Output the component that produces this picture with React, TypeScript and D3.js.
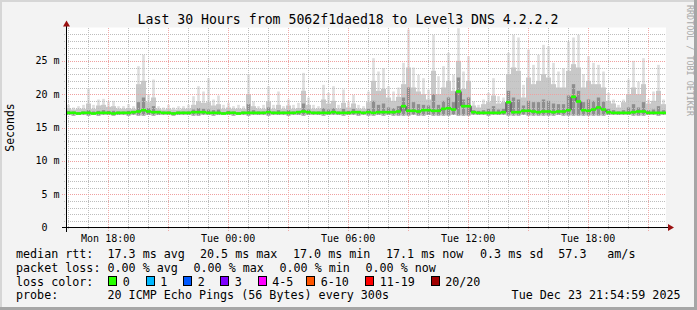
import React from 'react';
import * as d3 from 'd3';

const W = 697;
const H = 310;
const MONO = '"DejaVu Sans Mono", "Liberation Mono", monospace';

const title = 'Last 30 Hours from 5062f1daed18 to Level3 DNS 4.2.2.2';
const endTime = new Date(2025, 11, 23, 21, 54, 59);
const spanHours = 30;
const colMinutes = 15;

// per 15-minute column, values in ms
const medianMs = [
  17.2, 17.2, 17.1, 17.2, 17.2, 17.1, 17.2, 17.2, 17.2, 17.1, 17.2, 17.2, 17.2, 17.3, 17.4, 17.6, 17.4, 17.3, 17.3, 17.2,
  17.2, 17.1, 17.2, 17.2, 17.2, 17.3, 17.3, 17.3, 17.2, 17.2, 17.2, 17.1, 17.2, 17.2, 17.1, 17.2, 17.2, 17.2, 17.2, 17.2,
  17.3, 17.2, 17.2, 17.2, 17.2, 17.2, 17.3, 17.4, 17.3, 17.2, 17.2, 17.2, 17.2, 17.3, 17.2, 17.2, 17.2, 17.3, 17.3, 17.2,
  17.3, 17.2, 17.3, 17.3, 17.3, 17.3, 17.4, 18.2, 17.5, 17.5, 17.4, 17.6, 17.6, 17.5, 17.5, 17.8, 17.9, 17.7, 20.4, 18.2,
  18.2, 17.3, 17.2, 17.2, 17.2, 17.2, 17.2, 17.3, 18.8, 17.3, 17.3, 17.5, 17.5, 17.4, 17.3, 17.4, 17.4, 17.3, 17.4, 17.4,
  17.6, 19.6, 18.9, 17.6, 17.5, 17.7, 18.0, 17.7, 17.3, 17.2, 17.2, 17.2, 17.2, 17.3, 17.4, 17.4, 17.2, 17.2, 17.2, 17.2,
];
const lowMs = [
  16.9, 16.8, 16.9, 16.9, 16.8, 16.9, 16.8, 16.9, 16.9, 16.8, 16.9, 16.9, 16.8, 16.9, 16.8, 16.8, 16.9, 16.8, 16.9, 16.9,
  16.9, 16.8, 16.9, 16.9, 16.9, 16.8, 16.8, 16.9, 16.9, 16.8, 16.9, 16.9, 16.9, 16.8, 16.9, 16.9, 16.8, 16.9, 16.9, 16.9,
  16.8, 16.9, 16.9, 16.9, 16.8, 16.9, 16.9, 16.8, 16.9, 16.9, 16.9, 16.8, 16.9, 16.9, 16.9, 16.8, 16.9, 16.9, 16.8, 16.9,
  16.8, 16.8, 16.9, 16.8, 16.9, 16.8, 16.8, 16.8, 16.8, 16.9, 16.8, 16.8, 16.9, 16.8, 16.8, 16.8, 16.8, 16.9, 16.8, 16.8,
  16.8, 16.9, 16.9, 16.9, 16.8, 16.9, 16.9, 16.9, 16.8, 16.8, 16.8, 16.9, 16.8, 16.8, 16.8, 16.8, 16.8, 16.8, 16.9, 16.8,
  16.8, 16.8, 16.8, 16.8, 16.8, 16.8, 16.8, 16.8, 16.9, 16.9, 16.9, 16.9, 16.9, 16.8, 16.8, 16.8, 16.9, 16.9, 16.8, 16.9,
];
const p60Ms = [
  17.5, 17.4, 17.3, 17.4, 17.6, 17.4, 17.5, 17.6, 17.5, 17.5, 17.4, 17.4, 17.5, 17.5, 18.8, 19.5, 17.9, 18.2, 17.5, 17.4,
  17.4, 17.3, 17.4, 17.4, 17.4, 17.7, 17.9, 17.8, 17.7, 17.6, 17.7, 17.3, 17.5, 17.4, 17.3, 17.4, 18.5, 17.6, 17.4, 17.4,
  18.0, 17.4, 17.6, 17.4, 17.6, 17.4, 17.5, 18.6, 17.7, 17.4, 17.4, 17.9, 17.7, 17.9, 17.4, 17.8, 17.5, 17.8, 17.5, 17.4,
  17.8, 19.0, 18.4, 18.6, 18.0, 17.9, 18.2, 19.5, 21.0, 18.8, 18.5, 18.4, 18.3, 20.0, 18.4, 19.0, 19.5, 18.8, 22.5, 19.2,
  19.5, 17.6, 17.5, 17.6, 17.8, 18.2, 17.7, 17.8, 20.5, 19.5, 19.2, 18.3, 19.0, 18.8, 18.8, 19.2, 19.0, 18.6, 18.5, 18.5,
  19.8, 21.5, 20.5, 18.8, 19.2, 19.0, 19.5, 18.9, 17.8, 17.6, 17.4, 17.6, 18.0, 18.5, 18.0, 18.8, 17.6, 17.7, 18.2, 17.6,
];
const p90Ms = [
  17.9, 17.7, 17.8, 17.8, 18.6, 17.8, 18.3, 18.4, 18.1, 18.2, 17.8, 17.8, 17.9, 17.8, 21.5, 22.0, 18.8, 19.5, 17.8, 17.7,
  17.8, 17.7, 17.7, 17.8, 17.8, 18.4, 18.9, 18.7, 18.8, 18.3, 18.5, 17.8, 18.0, 17.8, 17.8, 17.8, 20.0, 18.2, 17.8, 17.8,
  18.9, 17.8, 18.4, 17.8, 18.3, 17.8, 17.9, 20.5, 18.4, 17.8, 17.8, 19.2, 18.6, 19.0, 17.8, 18.7, 18.0, 18.6, 17.8, 17.8,
  18.8, 22.0, 20.5, 20.8, 19.5, 19.0, 19.6, 21.5, 24.0, 21.0, 20.4, 20.0, 19.2, 23.5, 20.0, 21.0, 22.0, 20.5, 25.0, 20.8,
  22.0, 18.3, 18.0, 18.5, 18.8, 19.8, 18.6, 18.8, 23.0, 24.0, 23.5, 19.5, 22.5, 21.5, 22.0, 23.0, 22.5, 21.5, 21.0, 21.0,
  23.5, 24.5, 24.0, 21.0, 22.0, 21.5, 21.5, 21.0, 19.0, 18.6, 18.0, 18.8, 20.0, 21.0, 20.0, 21.5, 18.6, 19.0, 20.5, 18.5,
];
const maxMs = [
  18.4, 18.0, 18.2, 18.4, 20.9, 18.4, 19.2, 19.3, 18.9, 19.0, 18.2, 18.2, 18.5, 18.2, 24.2, 25.9, 20.0, 22.2, 18.2, 18.0,
  18.4, 18.0, 18.2, 18.2, 18.4, 19.7, 21.2, 20.4, 22.4, 19.2, 19.8, 18.4, 18.7, 18.2, 18.4, 18.2, 23.0, 18.9, 18.2, 18.4,
  21.2, 18.4, 20.4, 18.2, 19.2, 18.4, 18.7, 23.2, 19.5, 18.4, 18.2, 21.4, 20.2, 21.2, 18.4, 20.7, 18.9, 19.9, 18.4, 18.2,
  20.4, 25.4, 23.4, 23.9, 21.2, 20.4, 21.0, 24.7, 29.7, 24.0, 22.9, 22.4, 20.7, 28.9, 22.7, 24.2, 26.2, 22.9, 29.9, 23.4,
  25.7, 18.9, 18.4, 19.2, 20.2, 22.4, 19.7, 19.5, 26.2, 28.9, 28.5, 21.4, 26.7, 24.4, 25.9, 27.4, 27.2, 24.7, 23.4, 23.9,
  27.9, 28.5, 28.9, 23.0, 25.7, 24.7, 24.4, 23.4, 20.2, 19.2, 18.4, 19.2, 22.2, 25.0, 21.9, 25.4, 19.2, 20.4, 24.4, 19.2,
];

const yMajorTicks = [0, 5, 10, 15, 20, 25];
const lossColors = [
  { label: '0', color: '#26ff00' },
  { label: '1', color: '#00b8ff' },
  { label: '2', color: '#0059ff' },
  { label: '3', color: '#7e00ff' },
  { label: '4-5', color: '#ff00ff' },
  { label: '6-10', color: '#ff5500' },
  { label: '11-19', color: '#ff0000' },
  { label: '20/20', color: '#a00000' },
];
const legendRtt = [
  { text: 'median rtt:', x: 16 },
  { text: '17.3 ms avg', x: 107.5 },
  { text: '20.5 ms max', x: 200 },
  { text: '17.0 ms min', x: 293 },
  { text: '17.1 ms now', x: 386 },
  { text: '0.3 ms sd', x: 480 },
  { text: '57.3', x: 558.3 },
  { text: 'am/s', x: 607.3 },
];
const legendLoss = [
  { text: 'packet loss:', x: 16 },
  { text: '0.00 % avg', x: 107.5 },
  { text: '0.00 % max', x: 193.5 },
  { text: '0.00 % min', x: 279.5 },
  { text: '0.00 % now', x: 365.5 },
];
const lossBoxX = [108, 145.5, 183, 220, 257.5, 306, 365, 430.5];
const probeText = '20 ICMP Echo Pings (56 Bytes) every 300s';
const dateText = 'Tue Dec 23 21:54:59 2025';

export default function App() {
  const x0 = 66, x1 = 666, yTop = 27.5, yBot = 227.5;
  const startTime = new Date(endTime.getTime() - spanHours * 3600 * 1000);
  const xScale = d3.scaleTime().domain([startTime, endTime]).range([x0, x1]);
  const yScale = d3.scaleLinear().domain([0, 30]).range([yBot, yTop]);

  const colTime = (i: number) => new Date(startTime.getTime() + i * colMinutes * 60000);
  const cols = medianMs.map((m, i) => ({
    xa: xScale(colTime(i)),
    xb: xScale(colTime(i + 1)),
    med: m, lo: lowMs[i], p60: p60Ms[i], p90: p90Ms[i], max: maxMs[i],
  }));

  const hours = d3.timeHour.range(startTime, endTime);
  const minorY = d3.range(1, 30).filter((v) => v % 5 !== 0);
  const fmt = d3.timeFormat('%a %H:%M');

  const layers = [
    { key: 'max', color: '#dedede', inset: 1.2 },
    { key: 'p90', color: '#c8c8c8', inset: 0 },
    { key: 'p60', color: '#8e8e8e', inset: 0.8 },
  ];

  const blackLine = d3.line<[number, number]>().curve(d3.curveStepAfter)(
    [...cols.map((c) => [c.xa, yScale(c.med)] as [number, number]),
     [cols[cols.length - 1].xb, yScale(cols[cols.length - 1].med)]]
  );

  const charW = 6.02;
  const px = (v: number) => Math.round(v) + 0.5;

  return (
    <svg width={W} height={H} style={{ position: 'absolute', left: 0, top: 0, display: 'block' }}
      fontFamily={MONO}>
      <rect x={0} y={0} width={W} height={H} fill="#f3f3f3" />
      <rect x={0} y={0} width={W} height={2} fill="#d6d6d6" />
      <rect x={0} y={0} width={2} height={H} fill="#d6d6d6" />
      <rect x={W - 3} y={0} width={3} height={H} fill="#a6a6a6" />
      <rect x={0} y={H - 3} width={W} height={3} fill="#a6a6a6" />

      <rect x={x0} y={yTop} width={x1 - x0} height={yBot - yTop} fill="#ffffff" />

      {/* smoke */}
      {layers.map((l) => (
        <g key={l.key}>
          {cols.map((c, i) => {
            const top = yScale((c as any)[l.key]);
            const bot = yScale(c.lo);
            return <rect key={i} x={c.xa + l.inset} y={top} width={c.xb - c.xa - 2 * l.inset} height={Math.max(0, bot - top)} fill={l.color} />;
          })}
        </g>
      ))}

      {/* grid */}
      <g shapeRendering="crispEdges" strokeDasharray="1 1" strokeWidth={1} fill="none">
        {minorY.map((v) => (
          <line key={'my' + v} x1={x0 - 2} x2={x1} y1={px(yScale(v))} y2={px(yScale(v))} stroke="#bdbdbd" />
        ))}
        {hours.filter((h) => h.getHours() % 3 !== 0).map((h) => (
          <line key={'mx' + h.getTime()} x1={px(xScale(h))} x2={px(xScale(h))} y1={yTop} y2={yBot + 2} stroke="#bdbdbd" />
        ))}
        {yMajorTicks.filter((v) => v > 0).map((v) => (
          <line key={'My' + v} x1={x0 - 4} x2={x1} y1={px(yScale(v))} y2={px(yScale(v))} stroke="#efa0a0" />
        ))}
        {hours.filter((h) => h.getHours() % 3 === 0).map((h) => (
          <line key={'Mx' + h.getTime()} x1={px(xScale(h))} x2={px(xScale(h))} y1={yTop} y2={yBot + 4} stroke="#efa8a8" />
        ))}
      </g>

      {/* median */}
      <path d={blackLine || ''} fill="none" stroke="#202020" strokeWidth={1} />
      {cols.map((c, i) => (
        <line key={'g' + i} x1={c.xa} x2={c.xb} y1={yScale(c.med)} y2={yScale(c.med)} stroke="#26ff00" strokeWidth={2.6} />
      ))}

      {/* axes */}
      <g shapeRendering="crispEdges">
        <line x1={x0 - 4} x2={x1 + 4} y1={yBot} y2={yBot} stroke="#000" />
        <line x1={x0 + 0.5} x2={x0 + 0.5} y1={yBot + 4} y2={yTop - 4} stroke="#000" />
      </g>
      <path d={`M${x1 + 2},${yBot - 3.5} L${x1 + 8},${yBot} L${x1 + 2},${yBot + 3.5} Z`} fill="#9a1010" />
      <path d={`M${x0 - 3},${yTop - 1} L${x0 + 0.5},${yTop - 7} L${x0 + 4},${yTop - 1} Z`} fill="#9a1010" />

      {/* y labels */}
      {yMajorTicks.map((v) => (
        <text key={'yl' + v} x={v === 0 ? 59.5 - 2 * charW : 59.5} y={yScale(v) + 3.6} fontSize={10} textAnchor="end" fill="#000">
          {v === 0 ? '0' : `${v} m`}
        </text>
      ))}
      {/* x labels */}
      {hours.filter((h) => h.getHours() % 6 === 0).map((h) => (
        <text key={'xl' + h.getTime()} x={xScale(h) + 0.5} y={241.5} fontSize={10} textAnchor="middle" fill="#000">
          {fmt(h)}
        </text>
      ))}

      <text x={348} y={24} fontSize={13.2} textAnchor="middle" fill="#000">{title}</text>
      <text transform={`translate(14,${(yTop + yBot) / 2}) rotate(-90)`} fontSize={11.5} textAnchor="middle" fill="#000">Seconds</text>
      <text transform="translate(686.5,5) rotate(90)" fontSize={8.4} fill="#a8a8a8">RRDTOOL / TOBI OETIKER</text>

      {/* legend */}
      <g fontSize={11.7} fill="#000">
        {legendRtt.map((t) => (<text key={'r' + t.x} x={t.x} y={257.7}>{t.text}</text>))}
        {legendLoss.map((t) => (<text key={'l' + t.x} x={t.x} y={271.6}>{t.text}</text>))}
        <text x={16} y={285.5}>loss color:</text>
        {lossColors.map((lc, i) => (
          <g key={lc.label}>
            <rect x={lossBoxX[i] + 0.5} y={276.5} width={8} height={9} fill={lc.color} stroke="#000" strokeWidth={1} shapeRendering="crispEdges" />
            <text x={lossBoxX[i] + 14.7} y={285.5}>{lc.label}</text>
          </g>
        ))}
        <text x={16} y={299.4}>probe:</text>
        <text x={107.5} y={299.4}>{probeText}</text>
        <text x={680.5} y={299.4} textAnchor="end">{dateText}</text>
      </g>
    </svg>
  );
}
